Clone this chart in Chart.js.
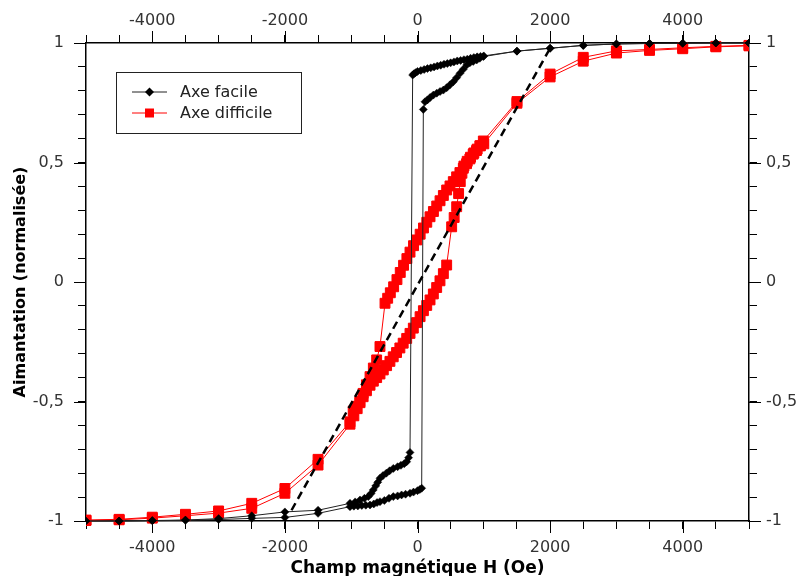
<!DOCTYPE html>
<html lang="fr">
<head>
<meta charset="utf-8">
<title>Cycle d'hystérésis</title>
<script src="https://cdn.jsdelivr.net/npm/chart.js@4.4.1/dist/chart.umd.min.js"></script>
<style>
    html, body { margin: 0; padding: 0; background: #fff; }
    #zone { width: 798px; height: 576px; }
</style>
</head>
<body>
<div id="zone"><canvas id="graficoCiclo" width="798" height="576"></canvas></div>
<script>
// Axe facile : branche descendante (de +5000 vers -5000)
const facileDescH = [5000, 4500, 4000, 3500, 3000, 2500, 2000, 1500,
    1000, 950, 900, 850, 800, 750, 700, 650, 600, 550, 500, 450, 400, 350, 300, 250, 200, 150, 100, 50, 0, -30, -55, -73,
    -113, -135, -163, -200, -250, -300, -365, -420, -470, -520, -566, -600, -630, -667, -700, -742, -800, -867, -940, -1018,
    -1500, -2000, -2500, -3000, -3500, -4000, -4500, -5000];
const facileDescM = [1.0, 1.0, 0.999, 0.998, 0.996, 0.99, 0.978, 0.966,
    0.946, 0.944, 0.942, 0.939, 0.936, 0.932, 0.93, 0.927, 0.925, 0.921, 0.917, 0.914, 0.911, 0.907, 0.904, 0.9, 0.896, 0.893, 0.889, 0.885, 0.881, 0.876, 0.871, 0.866,
    -0.713, -0.735, -0.752, -0.76, -0.767, -0.773, -0.78, -0.79, -0.8, -0.81, -0.821, -0.838, -0.853, -0.87, -0.885, -0.898, -0.905, -0.912, -0.92, -0.926,
    -0.955, -0.962, -0.978, -0.99, -0.996, -0.998, -1, -1];

// Axe facile : branche montante (de -5000 vers +5000)
const facileMontH = [-4500, -4000, -3500, -3000, -2500, -2000, -1500,
    -1018, -960, -900, -840, -780, -716, -660, -610, -566, -500, -430, -365, -300, -240, -180, -113, -60, 0, 35, 63,
    88, 113, 150, 190, 239, 290, 340, 390, 440, 490, 541, 590, 641, 690, 742, 790, 840, 893, 940, 993,
    1500, 2000, 2500, 3000, 3500, 4000, 4500, 5000];
const facileMontM = [-1, -0.999, -0.997, -0.994, -0.989, -0.985, -0.968,
    -0.94, -0.938, -0.937, -0.935, -0.934, -0.933, -0.929, -0.923, -0.919, -0.914, -0.905, -0.898, -0.895, -0.891, -0.888, -0.884, -0.879, -0.873, -0.868, -0.863,
    0.722, 0.754, 0.762, 0.772, 0.782, 0.79, 0.797, 0.803, 0.813, 0.825, 0.838, 0.855, 0.873, 0.89, 0.908, 0.917, 0.923, 0.929, 0.936, 0.943,
    0.966, 0.978, 0.99, 0.996, 0.998, 0.999, 1.0, 1.0];

// Axe difficile : branche descendante
const difDescH = [5000, 4500, 4000, 3500, 3000, 2500, 2000, 1500,
    993, 940, 890, 840, 790, 740, 691, 640, 590, 540, 490, 440, 390, 340, 290, 240, 189, 140, 90, 40, -10, -60, -113, -160, -210, -260, -310, -360, -410, -450, -490,
    -566, -616, -666, -716, -770, -820, -870, -920, -970, -1018,
    -1500, -2000, -2500, -3000, -3500, -4000, -4500, -5000];
const difDescM = [0.99, 0.986, 0.98, 0.973, 0.967, 0.94, 0.87, 0.755,
    0.59, 0.57, 0.55, 0.535, 0.515, 0.495, 0.476, 0.458, 0.44, 0.42, 0.402, 0.385, 0.362, 0.34, 0.318, 0.295, 0.273, 0.25, 0.226, 0.2, 0.176, 0.152, 0.125, 0.098, 0.07, 0.04, 0.01, -0.02, -0.045, -0.068, -0.089,
    -0.27, -0.326, -0.36, -0.396, -0.43, -0.466, -0.5, -0.52, -0.54, -0.585,
    -0.742, -0.864, -0.926, -0.958, -0.972, -0.984, -0.993, -0.996];

// Axe difficile : branche montante
const difMontH = [-5000, -4500, -4000, -3500, -3000, -2500, -2000, -1500,
    -1018, -960, -910, -867, -820, -770, -716, -666, -616, -566, -516, -466, -416, -366, -316, -266, -216, -163, -113, -63, -13, 39, 89, 139, 189, 239, 289, 339, 390, 440,
    515, 553, 591, 620, 645, 670, 700, 750, 800, 850, 900, 950, 1000,
    1500, 2000, 2500, 3000, 3500, 4000, 4500, 5000];
const difMontM = [-0.998, -0.995, -0.988, -0.978, -0.967, -0.947, -0.884, -0.766,
    -0.595, -0.56, -0.53, -0.505, -0.48, -0.455, -0.432, -0.415, -0.4, -0.385, -0.368, -0.35, -0.332, -0.313, -0.295, -0.276, -0.256, -0.236, -0.215, -0.193, -0.17, -0.145, -0.12, -0.098, -0.075, -0.05, -0.023, 0.005, 0.035, 0.071,
    0.231, 0.27, 0.315, 0.37, 0.42, 0.455, 0.485, 0.505, 0.522, 0.54, 0.556, 0.57, 0.578,
    0.748, 0.858, 0.924, 0.958, 0.969, 0.976, 0.984, 0.988];

// droite en tirets
const tiretsH = [-1900, 2000];
const tiretsM = [-0.955, 0.978];

// graduations étiquetées
const etiquettesH = [-4000, -2000, 0, 2000, 4000];
const etiquettesM = [-1, -0.5, 0, 0.5, 1];

const enPoints = (hs, ms) => hs.map((h, i) => ({ x: h, y: ms[i] }));

// les graduations étiquetées sont plus longues
const ticksMajeurs = {
    id: 'ticksMajeurs',
    afterDraw(chart) {
        const ctx = chart.ctx;
        const { left, right, top, bottom } = chart.chartArea;
        ctx.save();
        ctx.strokeStyle = '#000';
        ctx.lineWidth = 1;
        ctx.beginPath();
        etiquettesH.forEach((v) => {
            const px = Math.round(chart.scales.x.getPixelForValue(v)) + 0.5;
            ctx.moveTo(px, bottom); ctx.lineTo(px, bottom + 12);
            ctx.moveTo(px, top); ctx.lineTo(px, top - 12);
        });
        etiquettesM.forEach((v) => {
            const py = Math.round(chart.scales.y.getPixelForValue(v)) + 0.5;
            ctx.moveTo(left, py); ctx.lineTo(left - 12, py);
            ctx.moveTo(right, py); ctx.lineTo(right + 12, py);
        });
        ctx.stroke();
        ctx.restore();
    }
};

// légende encadrée dans la zone du graphique
const legende = {
    id: 'legende',
    afterDraw(chart) {
        const ctx = chart.ctx;
        ctx.save();
        ctx.fillStyle = '#fff';
        ctx.fillRect(116, 72, 186, 62);
        ctx.strokeStyle = '#222';
        ctx.lineWidth = 1;
        ctx.strokeRect(116.5, 72.5, 185, 61);
        const lignes = [{ ds: chart.data.datasets[0], y: 92 }, { ds: chart.data.datasets[1], y: 113 }];
        lignes.forEach(({ ds, y }) => {
            ctx.strokeStyle = ds.borderColor;
            ctx.lineWidth = 1;
            ctx.beginPath();
            ctx.moveTo(132, y); ctx.lineTo(167, y);
            ctx.stroke();
            ctx.fillStyle = ds.pointBackgroundColor;
            ctx.beginPath();
            if (ds.pointStyle === 'rectRot') {
                ctx.moveTo(149.5, y - 4.5); ctx.lineTo(154, y); ctx.lineTo(149.5, y + 4.5); ctx.lineTo(145, y);
                ctx.closePath();
            } else {
                ctx.rect(145, y - 4.5, 9, 9);
            }
            ctx.fill();
            ctx.fillStyle = '#222';
            ctx.font = '16px "DejaVu Sans"';
            ctx.textBaseline = 'middle';
            ctx.fillText(ds.label, 180, y + 1);
        });
        ctx.restore();
    }
};

const police = { family: 'DejaVu Sans', size: 16 };
const etiquetteH = (v) => (etiquettesH.includes(v) ? String(v) : '');
const etiquetteM = (v) => {
    const r = Math.round(v * 10) / 10;
    return etiquettesM.includes(r) ? String(r).replace('.', ',') : '';
};
const grille = { drawOnChartArea: false, tickLength: 8, color: '#000', tickColor: '#000', lineWidth: 1 };
const bord = { display: true, color: '#000', width: 1.5 };

const ctx = document.getElementById('graficoCiclo').getContext('2d');
new Chart(ctx, {
    type: 'scatter',
    data: {
        datasets: [{
            label: 'Axe facile',
            data: enPoints(facileDescH, facileDescM).concat(enPoints(facileMontH, facileMontM)),
            showLine: true,
            borderColor: '#222',
            borderWidth: 1,
            pointStyle: 'rectRot',
            pointRadius: 4,
            pointBackgroundColor: '#000',
            pointBorderColor: '#000',
            pointBorderWidth: 0.5,
            order: 1,
            clip: { left: 0, right: 0, top: 6, bottom: 6 }
        }, {
            label: 'Axe difficile',
            data: enPoints(difDescH, difDescM).concat(enPoints(difMontH, difMontM)),
            showLine: true,
            borderColor: '#ff0000',
            borderWidth: 1,
            pointStyle: 'rect',
            pointRadius: 7,
            pointBackgroundColor: '#ff0000',
            pointBorderColor: '#ff0000',
            pointBorderWidth: 1,
            order: 2,
            clip: { left: 0, right: 0, top: 6, bottom: 6 }
        }, {
            label: 'tirets',
            data: enPoints(tiretsH, tiretsM),
            showLine: true,
            borderColor: '#000',
            borderWidth: 2.5,
            borderDash: [8, 5],
            pointRadius: 0,
            order: 0
        }]
    },
    options: {
        responsive: false,
        animation: false,
        events: [],
        layout: { padding: 0 },
        plugins: { legend: { display: false }, tooltip: { enabled: false } },
        scales: {
            x: {
                type: 'linear', position: 'bottom', min: -5000, max: 5000,
                grid: grille, border: bord,
                ticks: { stepSize: 500, autoSkip: false, maxRotation: 0, padding: 9, font: police, color: '#333', callback: etiquetteH },
                title: {
                    display: true, text: 'Champ magnétique H (Oe)', color: '#000',
                    font: { family: 'DejaVu Sans', size: 17, weight: 'bold', lineHeight: 1 },
                    padding: { top: 0, bottom: -1 }
                },
                afterFit: (s) => { s.height = 55; }
            },
            x2: {
                type: 'linear', position: 'top', min: -5000, max: 5000,
                grid: grille, border: bord,
                ticks: { stepSize: 500, autoSkip: false, maxRotation: 0, padding: 5, font: police, color: '#333', callback: etiquetteH },
                afterFit: (s) => { s.height = 43; }
            },
            y: {
                type: 'linear', position: 'left', min: -1, max: 1,
                grid: grille, border: bord,
                ticks: { stepSize: 0.1, autoSkip: false, padding: 14, font: police, color: '#333', callback: etiquetteM },
                title: {
                    display: true, text: 'Aimantation (normalisée)', color: '#000',
                    font: { family: 'DejaVu Sans', size: 16, weight: 'bold', lineHeight: 1 },
                    padding: { top: 13, bottom: 0 }
                },
                afterFit: (s) => { s.width = 86; }
            },
            y2: {
                type: 'linear', position: 'right', min: -1, max: 1,
                grid: grille, border: bord,
                ticks: { stepSize: 0.1, autoSkip: false, padding: 9, font: police, color: '#333', callback: etiquetteM },
                afterFit: (s) => { s.width = 49; }
            }
        }
    },
    plugins: [ticksMajeurs, legende]
});
</script>
</body>
</html>
